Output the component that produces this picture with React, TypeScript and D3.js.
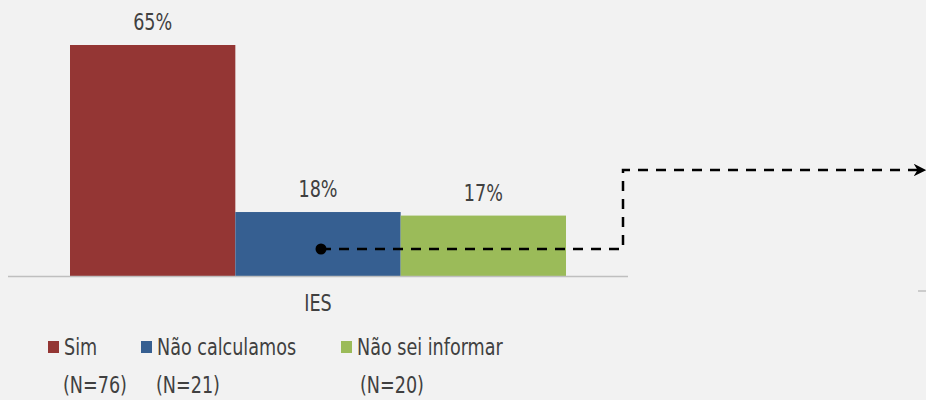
import React, { useEffect, useRef } from 'react';
import * as d3 from 'd3';

const categories = ['Sim', 'Não calculamos', 'Não sei informar'];
const values = [65, 18, 17];
const nLabels = ['(N=76)', '(N=21)', '(N=20)'];
const colors = ['#943634', '#365f91', '#9bbb59'];
const groupLabel = 'IES';

const width = 926;
const height = 400;
const font = "'DejaVu Sans Condensed', sans-serif";
const fontSize = 23;
// the original font is a narrow DIN-like face, so squeeze the glyphs a bit
const squeeze = 0.85;

const App = () => {
    const svgRef = useRef(null);

    useEffect(() => {
        const svg = d3.select(svgRef.current);
        svg.selectAll('*').remove();

        svg.append('rect')
            .attr('width', width)
            .attr('height', height)
            .attr('fill', '#f2f2f2');

        const addText = (x, y, txt, anchor = 'start') =>
            svg.append('text')
                .attr('transform', `translate(${x},${y}) scale(${squeeze},1)`)
                .attr('text-anchor', anchor)
                .attr('font-family', font)
                .attr('font-size', fontSize)
                .attr('fill', '#404040')
                .text(txt);

        // outer scale for the single group, inner for the bars
        const xGroup = d3.scaleBand().domain([groupLabel]).range([8, 628]);
        const xScale = d3.scaleBand()
            .domain(categories)
            .range([70, 566]);
        const yScale = d3.scaleLinear()
            .domain([0, 65])
            .range([276, 45]);

        svg.append('g')
            .selectAll('rect')
            .data(values)
            .join('rect')
            .attr('x', (d, i) => xScale(categories[i]))
            .attr('y', d => yScale(d))
            .attr('width', xScale.bandwidth())
            .attr('height', d => yScale(0) - yScale(d))
            .attr('fill', (d, i) => colors[i]);

        values.forEach((d, i) => {
            addText(xScale(categories[i]) + xScale.bandwidth() / 2, yScale(d) - 15, d + '%', 'middle');
        });

        // baseline
        svg.append('line')
            .attr('x1', 8)
            .attr('x2', 628)
            .attr('y1', yScale(0) + 0.5)
            .attr('y2', yScale(0) + 0.5)
            .attr('stroke', '#bfbfbf')
            .attr('stroke-width', 1.5);

        addText(xGroup(groupLabel) + xGroup.bandwidth() / 2, 311, groupLabel, 'middle');

        // small grey tick at right edge
        svg.append('line')
            .attr('x1', 918).attr('x2', 926)
            .attr('y1', 291).attr('y2', 291)
            .attr('stroke', '#bfbfbf')
            .attr('stroke-width', 1.5);

        // legend
        const legendX = [48, 141, 341];
        categories.forEach((c, i) => {
            svg.append('rect')
                .attr('x', legendX[i])
                .attr('y', 341)
                .attr('width', 11)
                .attr('height', 12)
                .attr('fill', colors[i]);
            addText(legendX[i] + 16, 355, c);
            addText(legendX[i] + (i === 2 ? 19 : 15), 393, nLabels[i]);
        });

        // dashed callout arrow
        svg.append('defs').append('marker')
            .attr('id', 'arrow')
            .attr('viewBox', '0 0 10 10')
            .attr('refX', 9)
            .attr('refY', 5)
            .attr('markerWidth', 5)
            .attr('markerHeight', 5)
            .attr('orient', 'auto')
            .append('path')
            .attr('d', 'M0,0 L10,5 L0,10 L3,5 Z')
            .attr('fill', '#000');

        const startX = xScale(categories[1]) + xScale.bandwidth() / 2 + 3;
        const path = d3.path();
        path.moveTo(startX, 249);
        path.lineTo(623, 249);
        path.lineTo(623, 170);
        path.lineTo(925, 170);
        svg.append('path')
            .attr('d', path.toString())
            .attr('fill', 'none')
            .attr('stroke', '#000')
            .attr('stroke-width', 2.5)
            .attr('stroke-dasharray', '10,8')
            .attr('marker-end', 'url(#arrow)');

        svg.append('circle')
            .attr('cx', startX)
            .attr('cy', 249)
            .attr('r', 5.5)
            .attr('fill', '#000');
    }, []);

    return (
        <svg ref={svgRef} width={width} height={height} style={{ position: 'absolute', left: 0, top: 0 }} />
    );
};

export default App;
